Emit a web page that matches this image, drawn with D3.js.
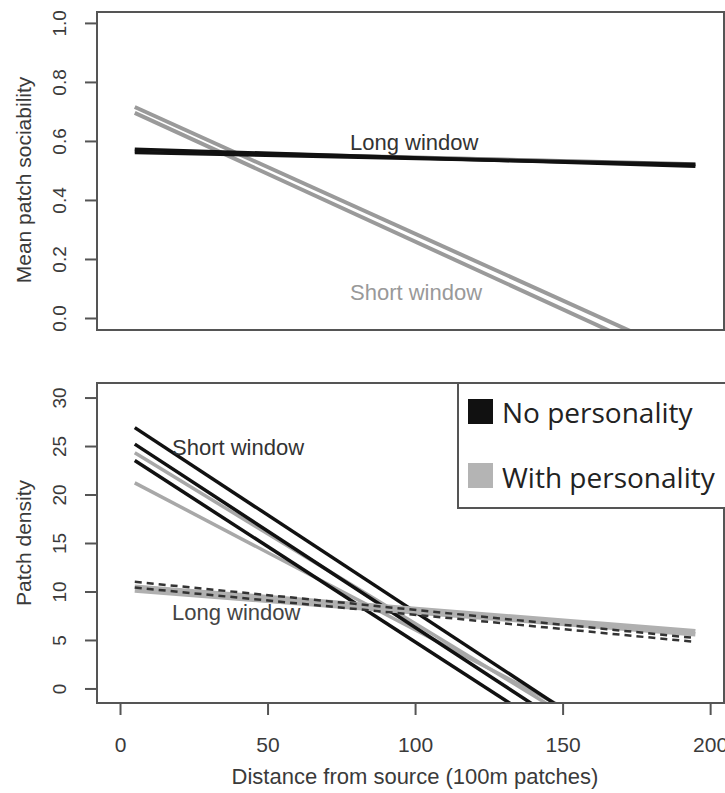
<!DOCTYPE html>
<html>
<head>
<meta charset="utf-8">
<script src="https://cdn.jsdelivr.net/npm/d3@7"></script>
<style>
  html, body { margin: 0; padding: 0; background: #fff; }
  svg { display: block; font-family: "Liberation Sans", Arial, sans-serif; }
</style>
</head>
<body>
<svg id="chart" width="725" height="793"></svg>
<script>
// Fitted regression lines: value at the first and last distance of each line.
const lineX = [5, 195];

// Top panel: mean patch sociability
const sociabilityLongWith  = [[0.566, 0.521]];
const sociabilityLongNone  = [[0.572, 0.514], [0.561, 0.520]];
const sociabilityShortWith = [[0.715, -0.144], [0.695, -0.177]];

// Bottom panel: patch density
const densityShortWith = [[24.3, -10.9], [21.2, -9.1]];
const densityShortNone = [[26.9, -11.1], [25.2, -12.6], [23.5, -13.9]];
const densityLongWith  = [[10.5, 5.9], [10.1, 5.6]];
const densityLongNone  = [[11.0, 5.2], [10.4, 4.8]];

// Axis ticks
const xTicks = [0, 50, 100, 150, 200];
const sociabilityTicks = [0, 0.2, 0.4, 0.6, 0.8, 1.0];
const densityTicks = [0, 5, 10, 15, 20, 25, 30];

// Legend
const legendLabels = ["No personality", "With personality"];
const colNone = "#111";
const colWith = "#b4b4b4";
const legendColors = [colNone, colWith];

const svg = d3.select("#chart");
const frame = "#555";
const textCol = "#3a3a3a";

const left = 97, right = 724;
const x = d3.scaleLinear().domain([-7.8, 204.7]).range([left, right]);

const panels = [
  { id: "soc", top: 12, bottom: 330, domain: [-0.0407, 1.037], ticks: sociabilityTicks,
    fmt: d3.format(".1f"), title: "Mean patch sociability", titleY: 180 },
  { id: "den", top: 383, bottom: 703, domain: [-1.5, 31.5], ticks: densityTicks,
    fmt: d3.format("d"), title: "Patch density", titleY: 543 }
];

panels.forEach(p => {
  p.y = d3.scaleLinear().domain(p.domain).range([p.bottom, p.top]);
  svg.append("clipPath").attr("id", "clip-" + p.id)
    .append("rect").attr("x", left).attr("y", p.top)
    .attr("width", right - left).attr("height", p.bottom - p.top);
  p.g = svg.append("g").attr("clip-path", `url(#clip-${p.id})`);

  // y axis
  const ya = svg.append("g").attr("transform", `translate(${left},0)`)
    .call(d3.axisLeft(p.y).tickValues(p.ticks).tickFormat(p.fmt).tickSize(12).tickPadding(0));
  ya.select(".domain").remove();
  ya.append("line").attr("x1", 0).attr("x2", 0)
    .attr("y1", p.y(p.ticks[0])).attr("y2", p.y(p.ticks[p.ticks.length - 1]))
    .attr("stroke", frame).attr("stroke-width", 2);
  ya.selectAll(".tick line").attr("stroke", frame).attr("stroke-width", 2);
  ya.selectAll(".tick text")
    .attr("x", 0).attr("dy", null).attr("fill", textCol)
    .style("font-size", "19px")
    .attr("text-anchor", "middle")
    .attr("transform", "translate(-36,0) rotate(-90)")
    .attr("y", 0).attr("dominant-baseline", "middle");

  // y title
  svg.append("text")
    .attr("transform", `translate(25,${p.titleY}) rotate(-90)`)
    .attr("text-anchor", "middle").attr("dominant-baseline", "middle")
    .attr("fill", textCol).style("font-size", "21px")
    .text(p.title);
});

const [soc, den] = panels;

function drawLines(panel, data, color, width, dash) {
  panel.g.selectAll(null).data(data).join("line")
    .attr("x1", x(lineX[0])).attr("x2", x(lineX[1]))
    .attr("y1", d => panel.y(d[0])).attr("y2", d => panel.y(d[1]))
    .attr("stroke", color).attr("stroke-width", width)
    .attr("stroke-dasharray", dash || null)
    .attr("stroke-linecap", "butt");
}

// Sociability lines
drawLines(soc, sociabilityShortWith, "#9a9a9a", 4);
drawLines(soc, sociabilityLongWith, "#777", 4);
drawLines(soc, sociabilityLongNone, colNone, 3.5);

// Density lines
drawLines(den, densityShortWith, "#a8a8a8", 3.5);
drawLines(den, densityShortNone, colNone, 3.5);
drawLines(den, densityLongWith, "#b0b0b0", 4.5);
drawLines(den, densityLongNone, "#333", 2.5, "7,5");

// Panel frames
panels.forEach(p => {
  svg.append("rect").attr("x", left).attr("y", p.top)
    .attr("width", right - left).attr("height", p.bottom - p.top)
    .attr("fill", "none").attr("stroke", frame).attr("stroke-width", 2);
});

// x axis under the density panel
const xa = svg.append("g").attr("transform", `translate(0,${den.bottom})`)
  .call(d3.axisBottom(x).tickValues(xTicks).tickSize(12).tickPadding(22));
xa.select(".domain").remove();
xa.append("line").attr("x1", x(xTicks[0])).attr("x2", x(xTicks[xTicks.length - 1]))
  .attr("stroke", frame).attr("stroke-width", 2);
xa.selectAll(".tick line").attr("stroke", frame).attr("stroke-width", 2);
xa.selectAll(".tick text").attr("fill", textCol).style("font-size", "21px");

svg.append("text").attr("x", 415).attr("y", 784)
  .attr("text-anchor", "middle").attr("fill", textCol).style("font-size", "22px")
  .text("Distance from source (100m patches)");

// Line annotations
const notes = [
  { t: "Long window", x: 350, y: 150, c: "#333" },
  { t: "Short window", x: 350, y: 300, c: "#999" },
  { t: "Short window", x: 172, y: 455, c: "#333" },
  { t: "Long window", x: 172, y: 620, c: "#444" }
];
svg.selectAll(null).data(notes).join("text")
  .attr("x", d => d.x).attr("y", d => d.y).attr("fill", d => d.c)
  .style("font-size", "22px").text(d => d.t);

// Legend
const lg = svg.append("g");
lg.append("rect").attr("x", 458).attr("y", 383).attr("width", 290).attr("height", 125)
  .attr("fill", "#fff").attr("stroke", frame).attr("stroke-width", 2);
lg.selectAll(".sw").data(legendLabels).join("rect")
  .attr("x", 468).attr("y", (d, i) => 399 + i * 64)
  .attr("width", 25).attr("height", 25)
  .attr("fill", (d, i) => legendColors[i]);
lg.selectAll(".lab").data(legendLabels).join("text")
  .attr("x", 502).attr("y", (d, i) => 423 + i * 65)
  .attr("fill", "#222")
  .style("font-family", "'Open Sans', sans-serif").style("font-size", "28px")
  .text(d => d);
</script>
</body>
</html>
